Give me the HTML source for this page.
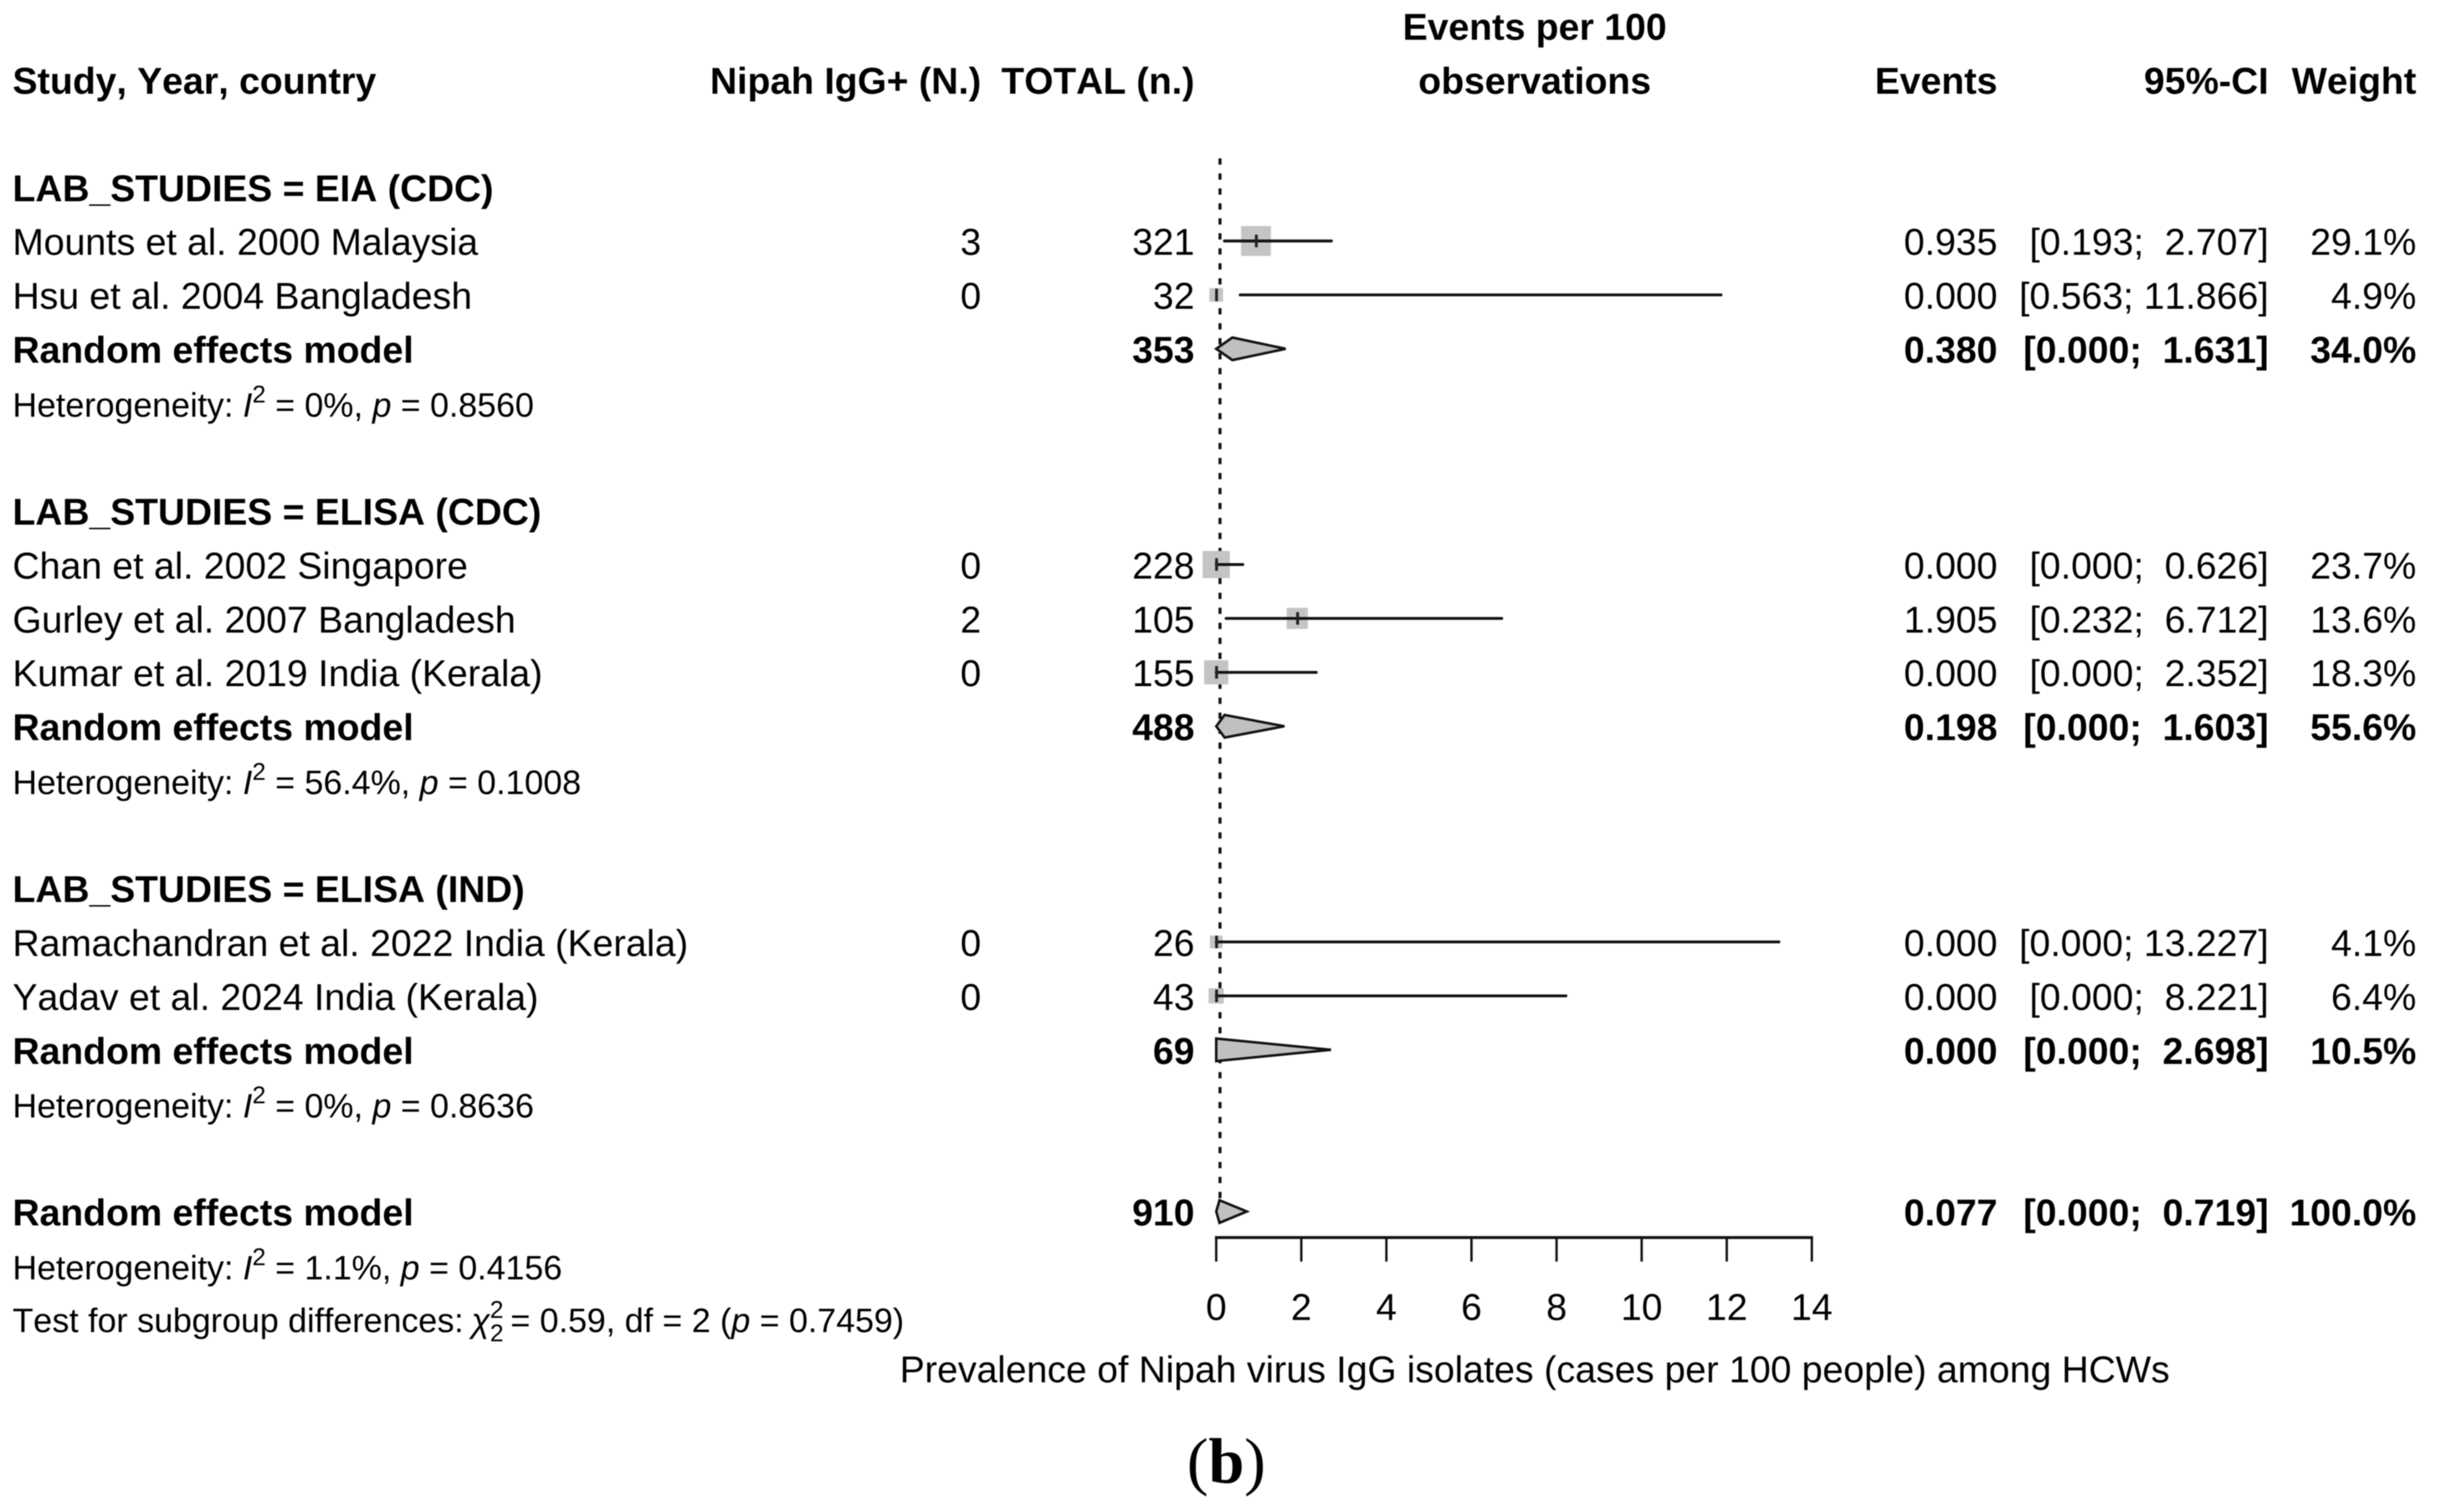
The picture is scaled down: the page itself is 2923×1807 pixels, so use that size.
<!DOCTYPE html>
<html lang="en">
<head>
<meta charset="utf-8">
<title>Forest plot of Nipah virus IgG prevalence among HCWs</title>
<style>
html,body{margin:0;padding:0;background:#fff;width:2923px;height:1807px;overflow:hidden}
svg{display:block;filter:blur(0.6px)}
text{font-family:"Liberation Sans",Arial,sans-serif;font-size:44.7px;fill:#000;white-space:pre;font-kerning:none;text-rendering:geometricPrecision}
.b{font-weight:700}
.h{font-size:40.6px}
</style>
</head>
<body>
<svg id="chart" xmlns="http://www.w3.org/2000/svg" width="2923" height="1807" viewBox="0 0 2923 1807">
<rect width="2923" height="1807" fill="#fff"/>
</svg>
<script>
const columnHeaders = ['Study, Year, country', 'Nipah IgG+ (N.)', 'TOTAL (n.)', 'Events', '95%-CI', 'Weight'];
const plotTitle = ['Events per 100', 'observations'];
const groupLabels = ['LAB_STUDIES = EIA (CDC)', 'LAB_STUDIES = ELISA (CDC)', 'LAB_STUDIES = ELISA (IND)'];
const studyLabels = ['Mounts et al. 2000 Malaysia', 'Hsu et al. 2004 Bangladesh', 'Chan et al. 2002 Singapore', 'Gurley et al. 2007 Bangladesh', 'Kumar et al. 2019 India (Kerala)', 'Ramachandran et al. 2022 India (Kerala)', 'Yadav et al. 2024 India (Kerala)'];
const studyGroups = [0, 0, 1, 1, 1, 2, 2];
const studyEvents = [3, 0, 0, 2, 0, 0, 0];
const studyTotals = [321, 32, 228, 105, 155, 26, 43];
const studyEstimates = [0.935, 0.000, 0.000, 1.905, 0.000, 0.000, 0.000];
const studyLowers = [0.193, 0.563, 0.000, 0.232, 0.000, 0.000, 0.000];
const studyUppers = [2.707, 11.866, 0.626, 6.712, 2.352, 13.227, 8.221];
const studyWeights = [29.1, 4.9, 23.7, 13.6, 18.3, 4.1, 6.4];
const groupTotals = [353, 488, 69];
const groupEstimates = [0.380, 0.198, 0.000];
const groupLowers = [0.000, 0.000, 0.000];
const groupUppers = [1.631, 1.603, 2.698];
const groupWeights = [34.0, 55.6, 10.5];
const groupI2 = ['0%', '56.4%', '0%'];
const groupP = ['0.8560', '0.1008', '0.8636'];
const overallTotal = 910;
const overallEstimate = 0.077;
const overallLower = 0.000;
const overallUpper = 0.719;
const overallWeight = 100.0;
const overallI2 = '1.1%';
const overallP = '0.4156';
const subgroupChi = '0.59';
const subgroupDf = '2';
const subgroupP = '0.7459';
const axisTicks = [0, 2, 4, 6, 8, 10, 12, 14];
const axisTitle = 'Prevalence of Nipah virus IgG isolates (cases per 100 people) among HCWs';

const NS = 'http://www.w3.org/2000/svg';
const svg = document.getElementById('chart');
const X0 = 1453.4, UNIT = 50.84;
const ROW_H = 64.44, ROW3_Y = 288, BASE = 16.7;
const COL_LEFT = 15, COL_EV = 1172.5, COL_TOT = 1427.5, COL_EST = 2387, COL_CI = 2711, COL_W = 2887.5, COL_TITLE = 1834;
function xScale(v) { return X0 + v * UNIT; }
function rowY(n) { return ROW3_Y + (n - 3) * ROW_H; }
function squareSize(w) { return 6.1 * Math.sqrt(w) + 2.8; }

function shape(tag, name, attrs) {
  const el = document.createElementNS(NS, tag);
  
  
  for (const k in attrs) el.setAttribute(k, attrs[k]);
  svg.appendChild(el);
  return el;
}
function label(name, str, x, y, anchor, cls) {
  const el = document.createElementNS(NS, 'text');
  
  
  el.setAttribute('x', x);
  el.setAttribute('y', y);
  el.setAttribute('text-anchor', anchor || 'start');
  if (cls) el.setAttribute('class', cls);
  if (str !== null) el.textContent = str;
  svg.appendChild(el);
  return el;
}
function span(parent, str, opts) {
  const t = document.createElementNS(NS, 'tspan');
  const o = opts || {};
  if (o.dy !== undefined) t.setAttribute('dy', o.dy);
  if (o.dx !== undefined) t.setAttribute('dx', o.dx);
  if (o.italic) t.setAttribute('font-style', 'italic');
  if (o.size) t.setAttribute('font-size', o.size);
  t.textContent = str;
  parent.appendChild(t);
}
function ciText(lo, hi) {
  return '[' + lo.toFixed(3) + '; ' + hi.toFixed(3).padStart(6, ' ') + ']';
}
function hetLine(name, n, i2, p) {
  const t = label(name, null, COL_LEFT, rowY(n) + BASE, 'start', 'h');
  span(t, 'Heterogeneity: ');
  span(t, 'I', { italic: true });
  span(t, '2', { dy: -17, size: 29 });
  span(t, ' = ' + i2 + ', ', { dy: 17 });
  span(t, 'p', { italic: true });
  span(t, ' = ' + p);
}
function diamond(name, n, est, lo, hi) {
  const y = rowY(n), h = 13.5;
  const pts = [[xScale(lo), y], [xScale(est), y - h], [xScale(hi), y], [xScale(est), y + h]];
  shape('polygon', name, {
    points: pts.map(function (p) { return p[0] + ',' + p[1]; }).join(' '),
    fill: '#c0c0c0', stroke: '#111', 'stroke-width': 3, 'stroke-linejoin': 'miter'
  });
}

/* header */
label('study-column-header', columnHeaders[0], COL_LEFT, rowY(0) + BASE + 0.8, 'start', 'b');
label('events-count-column-header', columnHeaders[1], COL_EV, rowY(0) + BASE + 0.8, 'end', 'b');
label('total-column-header', columnHeaders[2], COL_TOT, rowY(0) + BASE + 0.8, 'end', 'b');
label('plot-title-line-1', plotTitle[0], COL_TITLE, rowY(-1) + BASE + 0.8, 'middle', 'b');
label('plot-title-line-2', plotTitle[1], COL_TITLE, rowY(0) + BASE + 0.8, 'middle', 'b');
label('events-column-header', columnHeaders[3], COL_EST, rowY(0) + BASE + 0.8, 'end', 'b');
label('ci-column-header', columnHeaders[4], COL_CI, rowY(0) + BASE + 0.8, 'end', 'b');
label('weight-column-header', columnHeaders[5], COL_W, rowY(0) + BASE + 0.8, 'end', 'b');

/* reference line */
shape('line', 'reference-line', {
  x1: xScale(overallEstimate) + 0.6, x2: xScale(overallEstimate) + 0.6, y1: 189.3, y2: rowY(21),
  stroke: '#111', 'stroke-width': 3.6, 'stroke-dasharray': '7.5 10.4'
});

/* rows */
let row = 2;
groupLabels.forEach(function (g, gi) {
  label('group-header-' + gi, g, COL_LEFT, rowY(row) + BASE, 'start', 'b');
  row++;
  studyLabels.forEach(function (s, i) {
    if (studyGroups[i] !== gi) return;
    const y = rowY(row), tb = y + BASE;
    label('study-label-' + i, s, COL_LEFT, tb);
    label('study-events-' + i, String(studyEvents[i]), COL_EV, tb, 'end');
    label('study-total-' + i, String(studyTotals[i]), COL_TOT, tb, 'end');
    label('study-estimate-' + i, studyEstimates[i].toFixed(3), COL_EST, tb, 'end');
    label('study-ci-' + i, ciText(studyLowers[i], studyUppers[i]), COL_CI, tb, 'end');
    label('study-weight-' + i, studyWeights[i].toFixed(1) + '%', COL_W, tb, 'end');
    const sz = squareSize(studyWeights[i]);
    shape('rect', 'study-square-' + i, {
      x: xScale(studyEstimates[i]) - sz / 2, y: y - sz / 2, width: sz, height: sz, fill: '#c4c4c4'
    });
    shape('line', 'study-ci-line-' + i, {
      x1: xScale(studyLowers[i]), x2: xScale(studyUppers[i]), y1: y, y2: y, stroke: '#111', 'stroke-width': 3.4, 'stroke-linecap': 'round'
    });
    shape('line', 'study-estimate-tick-' + i, {
      x1: xScale(studyEstimates[i]) + 0.4, x2: xScale(studyEstimates[i]) + 0.4, y1: y - 7.5, y2: y + 7.5, stroke: '#222', 'stroke-width': 3.4
    });
    row++;
  });
  const tb = rowY(row) + BASE;
  label('group-model-label-' + gi, 'Random effects model', COL_LEFT, tb, 'start', 'b');
  label('group-total-' + gi, String(groupTotals[gi]), COL_TOT, tb, 'end', 'b');
  label('group-estimate-' + gi, groupEstimates[gi].toFixed(3), COL_EST, tb, 'end', 'b');
  label('group-ci-' + gi, ciText(groupLowers[gi], groupUppers[gi]), COL_CI, tb, 'end', 'b');
  label('group-weight-' + gi, groupWeights[gi].toFixed(1) + '%', COL_W, tb, 'end', 'b');
  diamond('group-diamond-' + gi, row, groupEstimates[gi], groupLowers[gi], groupUppers[gi]);
  row++;
  hetLine('group-heterogeneity-' + gi, row, groupI2[gi], groupP[gi]);
  row += 2;
});

/* overall */
const otb = rowY(row) + BASE;
label('overall-model-label', 'Random effects model', COL_LEFT, otb, 'start', 'b');
label('overall-total', String(overallTotal), COL_TOT, otb, 'end', 'b');
label('overall-estimate', overallEstimate.toFixed(3), COL_EST, otb, 'end', 'b');
label('overall-ci', ciText(overallLower, overallUpper), COL_CI, otb, 'end', 'b');
label('overall-weight', overallWeight.toFixed(1) + '%', COL_W, otb, 'end', 'b');
diamond('overall-diamond', row, overallEstimate, overallLower, overallUpper);
row++;
hetLine('overall-heterogeneity', row, overallI2, overallP);
row++;
const sg = label('subgroup-test', null, COL_LEFT, rowY(row) + BASE - 1.5, 'start', 'h');
span(sg, 'Test for subgroup differences: ');
span(sg, '\u03C7', { italic: true, dx: -2 });
span(sg, '2', { dy: -17, size: 29 });
span(sg, '2', { dy: 28, dx: -16, size: 29 });
span(sg, ' = ' + subgroupChi + ', df = ' + subgroupDf + ' (', { dy: -11, dx: -3 });
span(sg, 'p', { italic: true });
span(sg, ' = ' + subgroupP + ')');

/* axis */
const AXIS_Y = 1479, TICK_END = 1507.7;
shape('line', 'x-axis-line', {
  x1: xScale(axisTicks[0]) - 1.5, x2: xScale(axisTicks[axisTicks.length - 1]) + 1.5, y1: AXIS_Y, y2: AXIS_Y,
  stroke: '#111', 'stroke-width': 3.6
});
axisTicks.forEach(function (t) {
  shape('line', 'x-axis-tick-' + t, {
    x1: xScale(t), x2: xScale(t), y1: AXIS_Y, y2: TICK_END, stroke: '#111', 'stroke-width': 2.8
  });
  label('x-axis-tick-label-' + t, String(t), xScale(t), 1577.7, 'middle');
});
label('x-axis-title', axisTitle, COL_TITLE, 1652, 'middle');

/* panel letter */
const pl = label('panel-label', null, 1465.5, 1772, 'middle');
pl.setAttribute('style', 'font-family:"Liberation Serif",serif;font-size:77px');
span(pl, '(');
const pb = document.createElementNS(NS, 'tspan');
pb.setAttribute('font-weight', '700');
pb.textContent = 'b';
pl.appendChild(pb);
span(pl, ')');
</script>
</body>
</html>
